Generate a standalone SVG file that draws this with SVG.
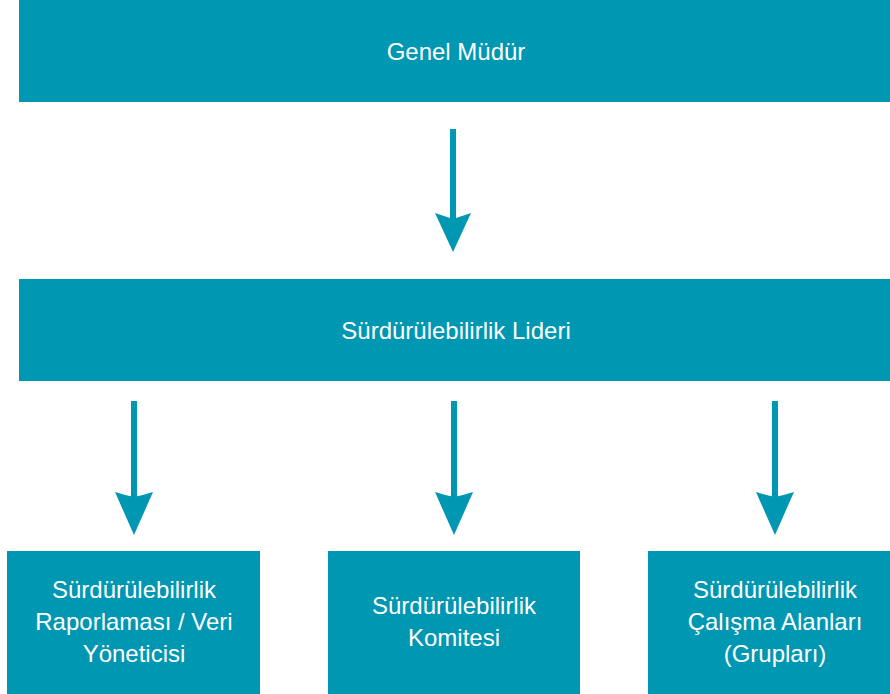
<svg xmlns="http://www.w3.org/2000/svg" width="890" height="694" viewBox="0 0 890 694">
<defs>
<style>
.box{fill:#0097b2}
.t{font-family:"Liberation Sans",Arial,sans-serif;font-size:24px;fill:#ffffff;text-anchor:middle}
.shaft{stroke:#0097b2;stroke-width:6;fill:none}
.head{fill:#0097b2}
</style>
</defs>
<rect width="890" height="694" fill="#ffffff"/>
<g id="connectors">
<g id="a1"><line class="shaft" x1="453" y1="129" x2="453" y2="222"/><path class="head" d="M435,213 Q444,216 453,219 Q462,216 471,213 L453,252 Z"/></g>
<g id="a2"><line class="shaft" x1="134" y1="401" x2="134" y2="500"/><path class="head" d="M115,492 Q124.5,495 134,497 Q143.5,495 153,492 L134,535 Z"/></g>
<g id="a3"><line class="shaft" x1="454" y1="401" x2="454" y2="500"/><path class="head" d="M435,492 Q444.5,495 454,497 Q463.5,495 473,492 L454,535 Z"/></g>
<g id="a4"><line class="shaft" x1="775" y1="401" x2="775" y2="500"/><path class="head" d="M756,492 Q765.5,495 775,497 Q784.5,495 794,492 L775,535 Z"/></g>
</g>
<g id="genel-mudur"><rect class="box" x="19" y="0" width="871" height="102"/><text class="t" x="456" y="60">Genel Müdür</text></g>
<g id="lider"><rect class="box" x="19" y="279" width="871" height="102"/><text class="t" x="456" y="339">Sürdürülebilirlik Lideri</text></g>
<g id="raporlama"><rect class="box" x="7" y="551" width="253" height="143"/><text class="t" x="134" y="598">Sürdürülebilirlik</text><text class="t" x="134" y="630">Raporlaması / Veri</text><text class="t" x="134" y="662">Yöneticisi</text></g>
<g id="komite"><rect class="box" x="328" y="551" width="252" height="143"/><text class="t" x="454" y="614">Sürdürülebilirlik</text><text class="t" x="454" y="646">Komitesi</text></g>
<g id="calisma"><rect class="box" x="648" y="551" width="242" height="143"/><text class="t" x="775" y="598">Sürdürülebilirlik</text><text class="t" x="775" y="630">Çalışma Alanları</text><text class="t" x="775" y="662">(Grupları)</text></g>
</svg>
